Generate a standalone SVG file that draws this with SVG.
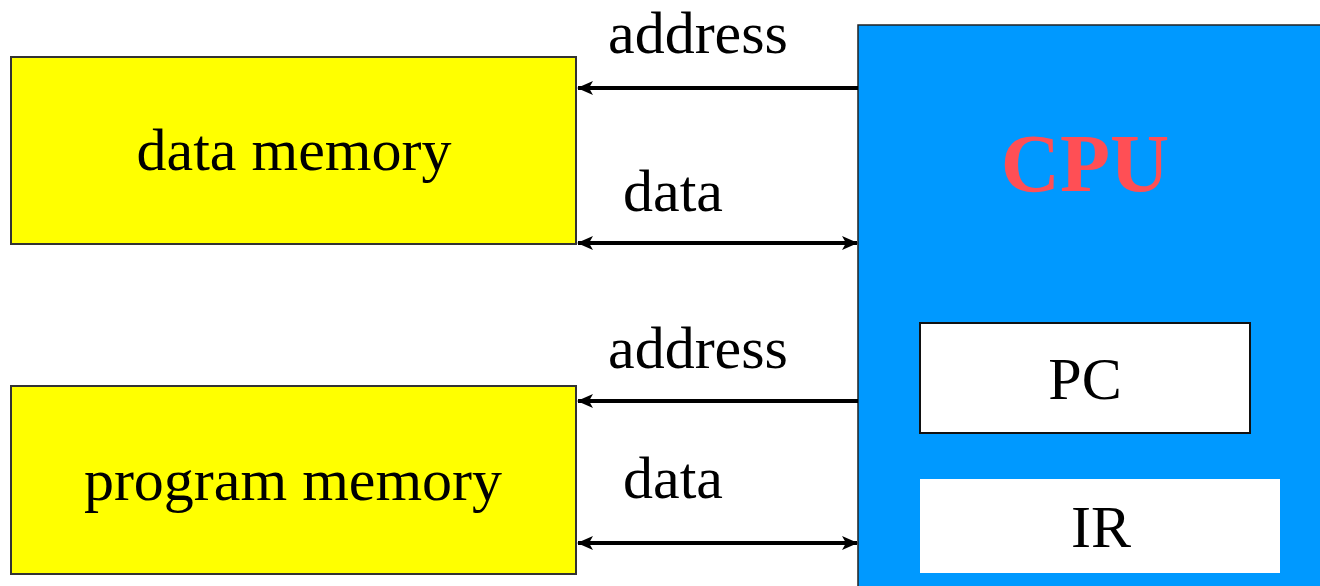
<svg xmlns="http://www.w3.org/2000/svg" width="1320" height="586" viewBox="0 0 1320 586">
<defs>
<style>
.mem{fill:#ffff00;stroke:#333;stroke-width:2}
.t{font-family:"Liberation Serif","Times New Roman",serif;font-size:60px;fill:#000}
.wire{stroke:#000;stroke-width:4;fill:none}
</style>
<marker id="ah" viewBox="0 0 16 14" refX="15" refY="7" markerWidth="16" markerHeight="14" markerUnits="userSpaceOnUse" orient="auto-start-reverse">
<path d="M0,0 L16,7 L0,14 L4,7 Z" fill="#000"/>
</marker>
</defs>
<rect width="1320" height="586" fill="#fff"/>
<g id="cpu">
<rect x="858" y="25" width="470" height="570" fill="#0099ff" stroke="#222" stroke-width="1.5"/>
<text x="1085" y="191" text-anchor="middle" style="font-family:'Liberation Serif','Times New Roman',serif;font-size:82px;font-weight:bold;fill:#ff4f55">CPU</text>
</g>
<g id="pc">
<rect x="920" y="323" width="330" height="110" fill="#fff" stroke="#111" stroke-width="2"/>
<text class="t" x="1085" y="399" text-anchor="middle">PC</text>
</g>
<g id="ir">
<rect x="920" y="479" width="360" height="94" fill="#fff"/>
<text class="t" x="1101" y="547" text-anchor="middle">IR</text>
</g>
<g id="data-memory">
<rect class="mem" x="11" y="57" width="565" height="187"/>
<text class="t" x="294" y="170" text-anchor="middle">data memory</text>
</g>
<g id="program-memory">
<rect class="mem" x="11" y="386" width="565" height="188"/>
<text class="t" x="293" y="500" text-anchor="middle">program memory</text>
</g>
<g id="connectors">
<line class="wire" x1="858" y1="88" x2="578" y2="88" marker-end="url(#ah)"/>
<line class="wire" x1="578" y1="243" x2="857" y2="243" marker-start="url(#ah)" marker-end="url(#ah)"/>
<line class="wire" x1="858" y1="401" x2="578" y2="401" marker-end="url(#ah)"/>
<line class="wire" x1="578" y1="543" x2="857" y2="543" marker-start="url(#ah)" marker-end="url(#ah)"/>
<text class="t" x="608" y="53">address</text>
<text class="t" x="623" y="211">data</text>
<text class="t" x="608" y="368">address</text>
<text class="t" x="623" y="498">data</text>
</g>
</svg>
